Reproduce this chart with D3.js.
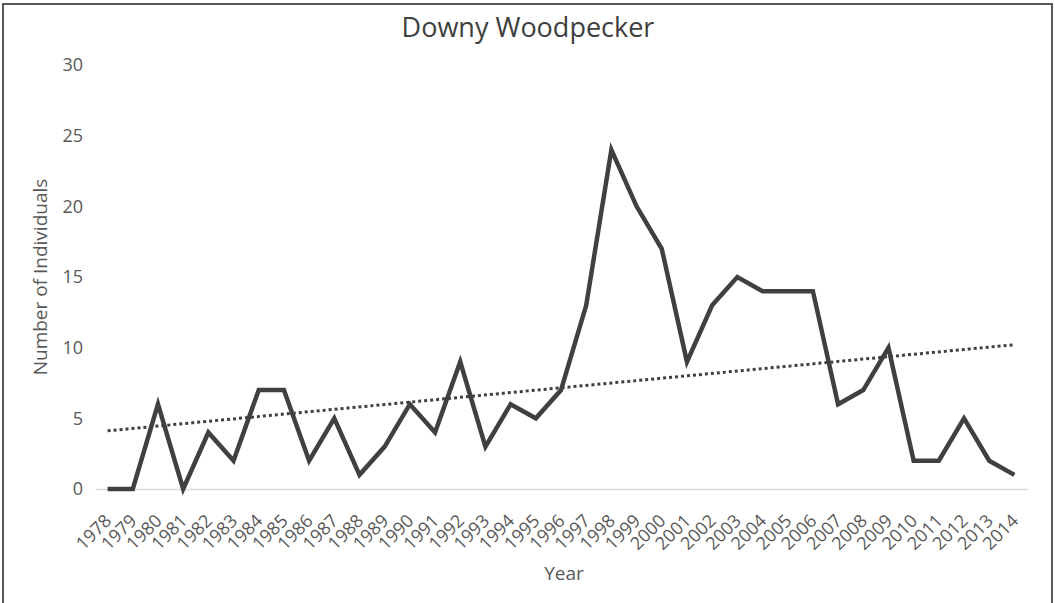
<!DOCTYPE html>
<html>
<head>
<meta charset="utf-8">
<script src="https://cdn.jsdelivr.net/npm/d3@7"></script>
<style>
  body { margin: 0; background: #fff; }
  text { font-family: "Open Sans", sans-serif; }
</style>
</head>
<body>
<div id="chart"></div>
<script>
// Data
const years = [1978, 1979, 1980, 1981, 1982, 1983, 1984, 1985, 1986, 1987,
  1988, 1989, 1990, 1991, 1992, 1993, 1994, 1995, 1996, 1997,
  1998, 1999, 2000, 2001, 2002, 2003, 2004, 2005, 2006, 2007,
  2008, 2009, 2010, 2011, 2012, 2013, 2014];
const counts = [0, 0, 6, 0, 4, 2, 7, 7, 2, 5,
  1, 3, 6, 4, 9, 3, 6, 5, 7, 13,
  24, 20, 17, 9, 13, 15, 14, 14, 14, 6,
  7, 10, 2, 2, 5, 2, 1];
const yTicks = [0, 5, 10, 15, 20, 25, 30];

const W = 1055, H = 603;
const margin = { top: 65, right: 28, bottom: 114, left: 95 };
const width = W - margin.left - margin.right;
const height = H - margin.top - margin.bottom;

const svg = d3.select("#chart").append("svg")
  .attr("width", W)
  .attr("height", H);

// Outer frame (no bottom edge visible in the reference)
svg.append("path")
  .attr("d", `M3,${H} V4 H1052 V${H}`)
  .attr("fill", "none")
  .attr("stroke", "#595959")
  .attr("stroke-width", 2);

const g = svg.append("g")
  .attr("transform", `translate(${margin.left},${margin.top})`);

// Scales: category axis with points centred in bands
const x = d3.scaleBand()
  .domain(years)
  .range([0, width]);

const y = d3.scaleLinear()
  .domain([0, 30])
  .range([height, 0]);

const cx = d => x(d) + x.bandwidth() / 2;

// Y axis labels (no line, no ticks)
const yAxis = g.append("g")
  .call(d3.axisLeft(y).tickValues(yTicks).tickSize(0).tickPadding(12));
yAxis.select(".domain").remove();
yAxis.selectAll("text")
  .attr("fill", "#595959")
  .style("font-size", "18px");

// X axis
const xAxis = g.append("g")
  .attr("transform", `translate(0,${height})`)
  .call(d3.axisBottom(x).tickSize(0).tickPadding(0));
xAxis.select(".domain")
  .attr("stroke", "#d9d9d9")
  .attr("stroke-width", 1.5);
xAxis.selectAll("text")
  .attr("fill", "#595959")
  .style("font-size", "18px")
  .attr("text-anchor", "end")
  .attr("dy", "0")
  .attr("transform", "translate(5,33) rotate(-45)");

// Data line
const line = d3.line()
  .x((d, i) => cx(years[i]))
  .y(d => y(d));

g.append("path")
  .datum(counts)
  .attr("fill", "none")
  .attr("stroke", "#404040")
  .attr("stroke-width", 4.5)
  .attr("stroke-linejoin", "miter")
  .attr("d", line);

// Linear trendline (least squares on index)
const n = counts.length;
const idx = d3.range(n);
const mx = d3.mean(idx), my = d3.mean(counts);
const slope = d3.sum(idx, i => (i - mx) * (counts[i] - my)) / d3.sum(idx, i => (i - mx) ** 2);
const intercept = my - slope * mx;

g.append("line")
  .attr("x1", cx(years[0]))
  .attr("y1", y(intercept))
  .attr("x2", cx(years[n - 1]))
  .attr("y2", y(intercept + slope * (n - 1)))
  .attr("stroke", "#404040")
  .attr("stroke-width", 3)
  .attr("stroke-dasharray", "3,3");

// Title
svg.append("text")
  .attr("x", 528)
  .attr("y", 37)
  .attr("text-anchor", "middle")
  .attr("fill", "#404040")
  .style("font-size", "27px")
  .text("Downy Woodpecker");

// Axis titles
svg.append("text")
  .attr("x", 564)
  .attr("y", 580)
  .attr("text-anchor", "middle")
  .attr("fill", "#595959")
  .style("font-size", "19px")
  .text("Year");

svg.append("text")
  .attr("transform", `translate(47,${margin.top + height / 2}) rotate(-90)`)
  .attr("text-anchor", "middle")
  .attr("fill", "#595959")
  .style("font-size", "19px")
  .text("Number of Individuals");
</script>
</body>
</html>
